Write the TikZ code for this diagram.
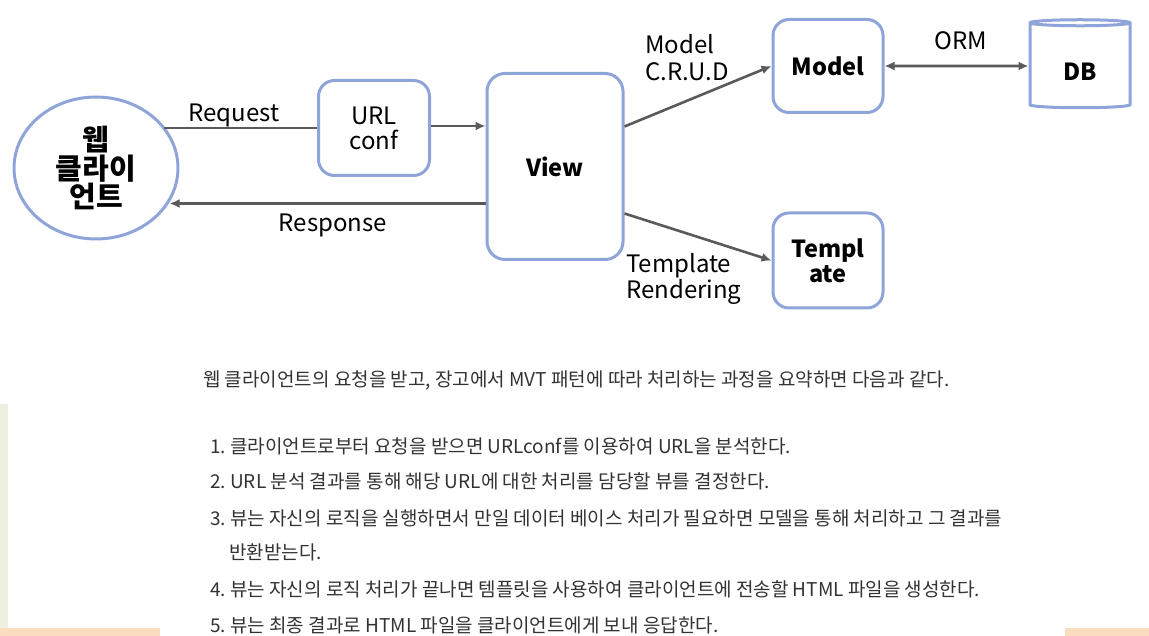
\documentclass[tikz,border=0pt]{standalone}
\usepackage{fontspec}
\newfontfamily\krfont{Noto Sans CJK KR}
\usepackage{tikz}
\usetikzlibrary{arrows.meta}
\usetikzlibrary{shapes.geometric}
\definecolor{BoxBlue}{HTML}{8FA4D8}
\definecolor{ArrowGrey}{HTML}{5A5A5A}
\definecolor{TextGrey}{HTML}{333333}
\definecolor{LightBeige}{HTML}{EEEFDF}
\definecolor{LightPeach}{HTML}{FCDCBE}

\begin{document}
\begin{tikzpicture}[x=1pt, y=-1pt,
  every node/.style={font=\krfont\fontsize{24}{25}\selectfont, align=center, inner sep=0pt},
  box/.style={draw=BoxBlue, line width=3pt, rounded corners=16pt},
  boldtext/.style={font=\krfont\bfseries\fontsize{23.5}{25}\selectfont},
  flow/.style={draw=ArrowGrey, line width=2.6pt, -{Latex[length=10pt,width=9pt]}},
  listline/.style={anchor=west, text=TextGrey, font=\krfont\fontsize{19}{20}\selectfont}]

  \fill[white] (0,0) rectangle (1149,636);
  \useasboundingbox (0,0) rectangle (1149,636);
  \fill[LightBeige] (0,404) rectangle (8,636);
  \fill[LightPeach] (0,628) rectangle (160,636);
  \fill[LightPeach] (1065,628) rectangle (1149,636);

  \node[draw=BoxBlue, line width=3pt, ellipse, minimum width=164pt, minimum height=142pt,
    font=\krfont\bfseries\fontsize{29}{28.5}\selectfont] (client) at (96,168) {웹\\클라이\\언트};
  \node[box, minimum width=111pt, minimum height=95pt] (urlconf) at (374,128) {URL\\conf};
  \node[box, boldtext, minimum width=136pt, minimum height=186pt, rounded corners=18pt] (view) at (555,166.5) {View};
  \node[box, boldtext, minimum width=110pt, minimum height=93pt] (model) at (828,66) {Model};
  \node[box, boldtext, minimum width=110pt, minimum height=95pt] (template) at (828,260.5) {Templ\\ate};
  \node[draw=BoxBlue, line width=3pt, cylinder, shape border rotate=90, aspect=0.18,
    minimum width=100pt, minimum height=88pt, boldtext] (db) at (1080,66) {\raisebox{-6pt}[\height][\depth]{DB}};

  \draw[draw=ArrowGrey, line width=2.6pt] (urlconf.west) -- (client.32 |- urlconf.west);
  \draw[flow] ([yshift=2pt]urlconf.east) -- ([yshift=2pt]urlconf.east -| view.west);
  \draw[flow] ([yshift=-37pt]view.west) -- ([yshift=-37pt]view.west -| client.-25);
  \draw[flow] ([yshift=40pt]view.east) -- (model.west);
  \draw[flow] ([yshift=-47pt]view.east) -- (template.west);
  \draw[flow, {Latex[length=10pt,width=9pt]}-{Latex[length=10pt,width=9pt]}] (model.east) -- (db.west);

  \node (request) at (234,115) {Request};
  \node (response) at (333,225) {Response};
  \node[anchor=west, align=left, font=\krfont\fontsize{24}{27}\selectfont] (crud) at (645,58) {Model\\C.R.U.D};
  \node (orm) at (961,41) {ORM};
  \node[anchor=west, align=left, font=\krfont\fontsize{24}{24}\selectfont] (rendering) at (626,279) {Template\\Rendering};

  \node[listline] (intro) at (203,380) {웹 클라이언트의 요청을 받고, 장고에서 MVT 패턴에 따라 처리하는 과정을 요약하면 다음과 같다.};
  \foreach \n/\y/\t in {1/446/클라이언트로부터 요청을 받으면 URLconf를 이용하여 URL을 분석한다.,
      2/481/URL 분석 결과를 통해 해당 URL에 대한 처리를 담당할 뷰를 결정한다.,
      3/518/뷰는 자신의 로직을 실행하면서 만일 데이터 베이스 처리가 필요하면 모델을 통해 처리하고 그 결과를,
      4/589/뷰는 자신의 로직 처리가 끝나면 템플릿을 사용하여 클라이언트에 전송할 HTML 파일을 생성한다.,
      5/625/뷰는 최종 결과로 HTML 파일을 클라이언트에게 보내 응답한다.}{%
    \node[listline] (item\n) at (210,\y) {\n.~\t};
  }
  \node[listline] (item3b) at (229,552) {반환받는다.};
\end{tikzpicture}
\end{document}
